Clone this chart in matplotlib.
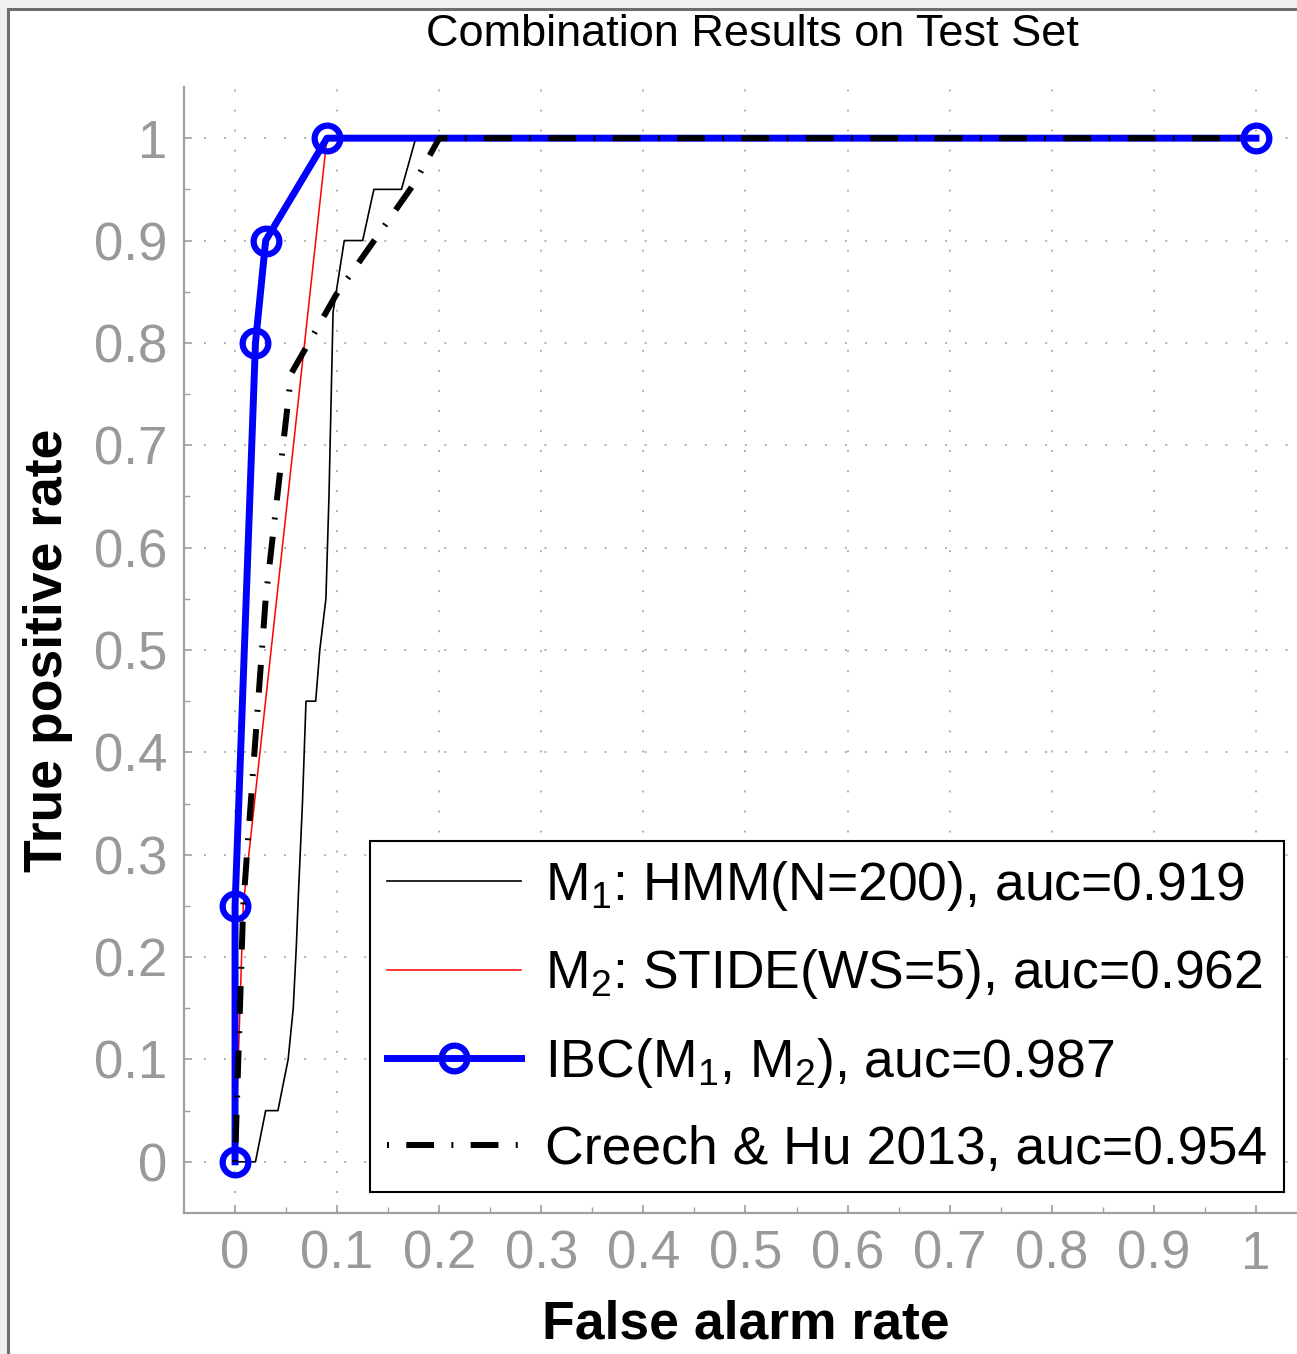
import matplotlib
matplotlib.use("Agg")
import matplotlib.pyplot as plt
from matplotlib import font_manager
from matplotlib.patches import Rectangle

# ROC points (false alarm rate, true positive rate)
hmm_fpr = [0.0, 0.02, 0.03, 0.042, 0.052, 0.057, 0.060, 0.062, 0.066, 0.0695, 0.079,
           0.083, 0.089, 0.092, 0.096, 0.107, 0.125, 0.136, 0.163, 0.177, 1.0]
hmm_tpr = [0.0, 0.0, 0.05, 0.05, 0.10, 0.15, 0.21, 0.26, 0.35, 0.45, 0.45,
           0.50, 0.55, 0.65, 0.83, 0.90, 0.90, 0.95, 0.95, 1.0, 1.0]

stide_fpr = [0.0, 0.008, 0.09, 1.0]
stide_tpr = [0.0, 0.25, 1.0, 1.0]

ibc_fpr = [0.0, 0.0, 0.02, 0.03, 0.09, 1.0]
ibc_tpr = [0.0, 0.25, 0.80, 0.90, 1.0, 1.0]

creech_fpr = [0.0, 0.008, 0.03, 0.055, 0.099, 0.175, 0.2, 1.0]
creech_tpr = [0.0, 0.25, 0.55, 0.77, 0.847, 0.955, 1.0, 1.0]

labels = [
    r"$\mathregular{M_1}$: HMM(N=200), auc=0.919",
    r"$\mathregular{M_2}$: STIDE(WS=5), auc=0.962",
    r"IBC($\mathregular{M_1}$, $\mathregular{M_2}$), auc=0.987",
    "Creech & Hu 2013, auc=0.954",
]
ticks = [0, 0.1, 0.2, 0.3, 0.4, 0.5, 0.6, 0.7, 0.8, 0.9, 1]

installed = {f.name for f in font_manager.fontManager.ttflist}
narrow = "Liberation Sans Narrow" if "Liberation Sans Narrow" in installed else "Liberation Sans"

plt.rcParams["font.family"] = ["Liberation Sans", "DejaVu Sans"]
plt.rcParams["mathtext.fontset"] = "custom"
plt.rcParams["mathtext.rm"] = "Liberation Sans"

W, H = 1297, 1354
fig = plt.figure(figsize=(W / 100, H / 100), dpi=100, facecolor="#f0f0f0")

# window frame around the canvas
fig.patches.append(Rectangle((8 / W, -0.05), 1.1, 1 - 9 / H + 0.05, transform=fig.transFigure,
                             facecolor="white", edgecolor="#6e6e6e", linewidth=2.2, zorder=-10))

ax = fig.add_axes([184 / W, 141 / H, 1123 / W, 1126 / H])
ax.set_facecolor("none")

ax.plot(hmm_fpr, hmm_tpr, color="black", lw=1.2, label=labels[0], zorder=3)
ax.plot(stide_fpr, stide_tpr, color="red", lw=1.1, label=labels[1], zorder=4)
ax.plot(ibc_fpr, ibc_tpr, color="blue", lw=5, marker="o", ms=18.5, mew=4.5,
        mfc="none", mec="blue", label=labels[2], zorder=5)
# dash-dot pattern, starting on the short tick
ax.plot(creech_fpr, creech_tpr, color="black", lw=4.3,
        linestyle=(7.55, (4.65, 2.9, 0.33, 2.9)),
        dash_capstyle="butt", label=labels[3], zorder=6)

ax.set_xlim(-0.05, 1.05)
ax.set_ylim(-0.05, 1.05)
ax.set_xticks(ticks)
ax.set_yticks(ticks)
ax.set_xticklabels([f"{t:g}" for t in ticks])
ax.set_yticklabels([f"{t:g}" for t in ticks])
ax.set_xticks([t + 0.05 for t in ticks[:-1]], minor=True)
ax.set_yticks([t + 0.05 for t in ticks[:-1]], minor=True)

grey = "#999999"
for side in ["top", "right"]:
    ax.spines[side].set_visible(False)
for side in ["left", "bottom"]:
    ax.spines[side].set_color("#a0a0a0")
    ax.spines[side].set_linewidth(1.6)
ax.tick_params(which="major", direction="in", length=6, width=1.2, color="#a0a0a0",
               labelsize=38, labelcolor=grey, pad=12)
ax.tick_params(which="minor", direction="in", length=4, width=1.0, color="#a0a0a0")
ax.grid(True, which="major", color="#b0b0b0", lw=1.4, linestyle=(0, (1, 9.3)))

ax.set_xlabel("False alarm rate", fontsize=38.5, fontweight="bold")
ax.set_ylabel("True positive rate", fontsize=38.5, fontweight="bold")
ax.xaxis.label.set_va("center")
ax.yaxis.label.set_va("center")
ax.xaxis.set_label_coords(0.5, -0.099)
ax.yaxis.set_label_coords(-0.121, 0.5)

fig.text(752 / W, 1 - 34 / H, "Combination Results on Test Set", fontsize=32.5,
         family=[narrow, "DejaVu Sans"], ha="center", va="center")

leg = ax.legend(loc="lower right", bbox_to_anchor=(0.9795, 0.0187), borderaxespad=0,
                fontsize=38.5, handlelength=2.5, handletextpad=0.45, labelspacing=0.65,
                borderpad=0.32, fancybox=False, framealpha=1, edgecolor="black")
leg.get_frame().set_linewidth(1.5)

fig.savefig("out.png", dpi=100, facecolor=fig.get_facecolor())
